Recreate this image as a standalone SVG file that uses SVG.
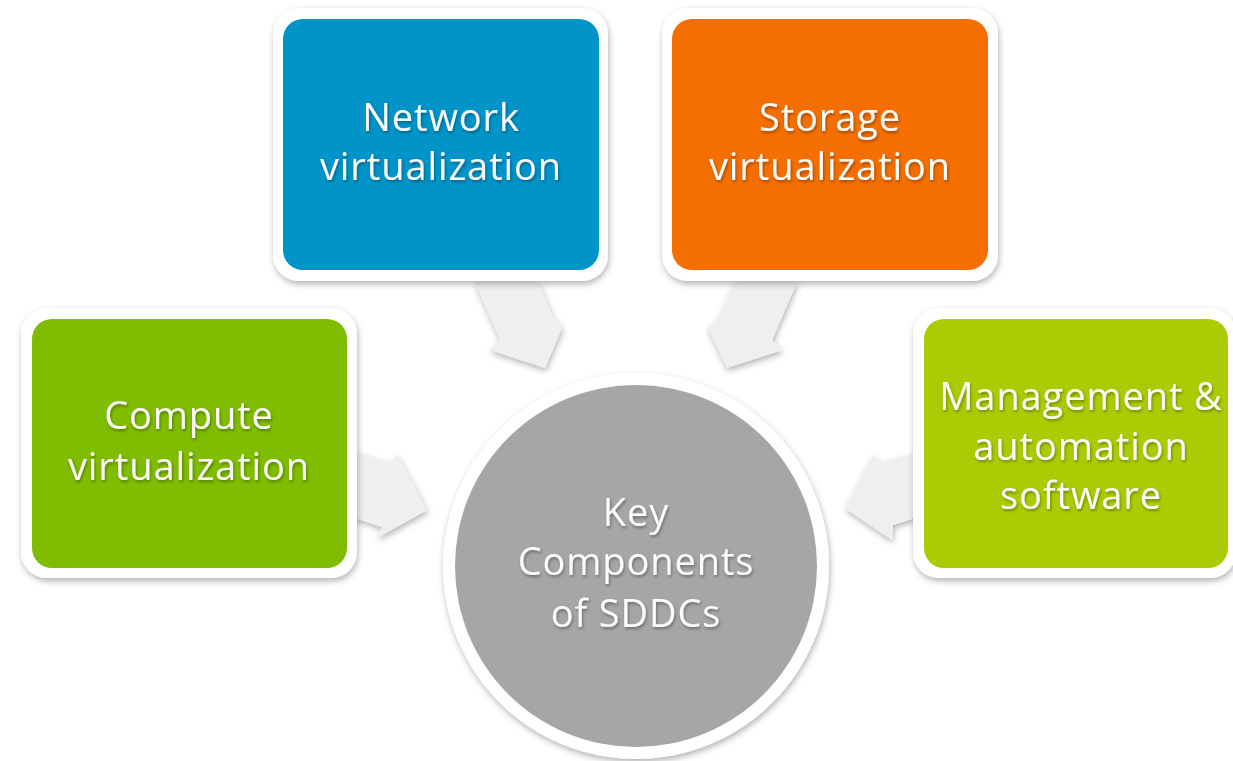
<svg xmlns="http://www.w3.org/2000/svg" width="1233" height="761" viewBox="0 0 1233 761">
<defs>
<filter id="sh" x="-20%" y="-20%" width="140%" height="140%">
<feDropShadow dx="1" dy="3" stdDeviation="3" flood-color="#000" flood-opacity="0.3"/>
</filter>
<filter id="ash" x="-30%" y="-30%" width="160%" height="160%">
<feDropShadow dx="1" dy="3" stdDeviation="3" flood-color="#000" flood-opacity="0.3"/>
</filter>
<filter id="tsh" x="-10%" y="-20%" width="120%" height="140%">
<feDropShadow dx="1" dy="2" stdDeviation="1.5" flood-color="#000" flood-opacity="0.35"/>
</filter>
</defs>
<style>
.frame{fill:#ffffff;filter:url(#sh)}
.arrow{fill:#efefef;filter:url(#ash)}
.lbl{font-family:"Open Sans","Liberation Sans",sans-serif;font-size:38px;letter-spacing:0.9px;fill:#fbfbfb;text-anchor:middle;filter:url(#tsh)}
</style>
<rect width="1233" height="761" fill="#ffffff"/>
<g id="connectors">
<polygon class="arrow" points="475,282 538,282 552,315 562,328 545,368 490,350 500,340"/>
<polygon class="arrow" points="797,282 735,282 720,315 708,328 727,368 782,350 772,340"/>
<polygon class="arrow" points="352,451 390,463 397,455 427,510 377,538 382,527 352,517"/>
<polygon class="arrow" points="918,452 880,463 873,455 845,508 892,540 893,525 918,517"/>
</g>
<g id="network">
<rect class="frame" x="273" y="8" width="335" height="273" rx="26"/>
<rect x="283" y="19" width="316" height="251" rx="20" fill="#0094c8"/>
<text class="lbl" x="441" y="131">Network</text>
<text class="lbl" x="441" y="180">virtualization</text>
</g>
<g id="storage">
<rect class="frame" x="662" y="8" width="336" height="273" rx="26"/>
<rect x="672" y="19" width="316" height="251" rx="20" fill="#f46f00"/>
<text class="lbl" x="830" y="131">Storage</text>
<text class="lbl" x="830" y="180">virtualization</text>
</g>
<g id="compute">
<rect class="frame" x="21" y="308" width="336" height="270" rx="26"/>
<rect x="32" y="319" width="315" height="249" rx="20" fill="#80bc00"/>
<text class="lbl" x="189" y="429">Compute</text>
<text class="lbl" x="189" y="480">virtualization</text>
</g>
<g id="management">
<rect class="frame" x="913" y="308" width="323" height="270" rx="26"/>
<rect x="924" y="319" width="304" height="249" rx="20" fill="#abcc05"/>
<text class="lbl" x="1081" y="410">Management &amp;</text>
<text class="lbl" x="1081" y="460">automation</text>
<text class="lbl" x="1081" y="509">software</text>
</g>
<g id="center">
<circle class="frame" cx="636" cy="566" r="193"/>
<circle cx="636" cy="566" r="181" fill="#a6a6a6"/>
<text class="lbl" x="636" y="526">Key</text>
<text class="lbl" x="636" y="575">Components</text>
<text class="lbl" x="636" y="627">of SDDCs</text>
</g>
</svg>
